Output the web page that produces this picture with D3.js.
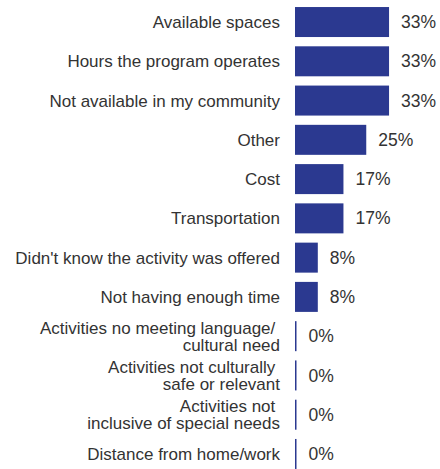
<!DOCTYPE html>
<html>
<head>
<meta charset="utf-8">
<script src="https://cdn.jsdelivr.net/npm/d3@7"></script>
<style>
  body { margin: 0; background: #fff; }
  text { font-family: "Liberation Sans", Arial, sans-serif; fill: #333; white-space: pre; }
</style>
</head>
<body>
<div id="grafico"></div>
<script>
var categories = [
    "Available spaces",
    "Hours the program operates",
    "Not available in my community",
    "Other",
    "Cost",
    "Transportation",
    "Didn't know the activity was offered",
    "Not having enough time",
    "Activities no meeting language/ \ncultural need",
    "Activities not culturally \nsafe or relevant",
    "Activities not \ninclusive of special needs",
    "Distance from home/work"
];
var values = [33, 33, 33, 25, 17, 17, 8, 8, 0, 0, 0, 0];
var valueLabels = ["33%", "33%", "33%", "25%", "17%", "17%", "8%", "8%", "0%", "0%", "0%", "0%"];

var width = 440,
    height = 469;

var rows = categories.map(function(c, i) {
    return { cat: c, value: values[i], label: valueLabels[i] };
});

var svg = d3.select("#grafico").append("svg")
    .attr("width", width)
    .attr("height", height);

var x = d3.scaleLinear().domain([0, 100]).range([295, 580]);
var y = d3.scaleBand().domain(categories).range([2.4, 473.6]).paddingInner(0.236).paddingOuter(0.118);

var blue = "#2b3990";

svg.selectAll(".bar")
    .data(rows)
    .enter()
    .append("rect")
    .attr("class", "bar")
    .attr("x", x(0))
    .attr("y", function(d) { return y(d.cat) })
    .attr("height", y.bandwidth())
    .attr("width", function(d) { return Math.max(x(d.value) - x(0), 1.5) })
    .attr("fill", blue);

svg.selectAll(".val")
    .data(rows)
    .enter()
    .append("text")
    .attr("class", "val")
    .attr("x", function(d) { return Math.max(x(d.value), x(0) + 1.5) + 12 })
    .attr("y", function(d) { return y(d.cat) + y.bandwidth() / 2 })
    .attr("dy", "0.35em")
    .style("font-size", "17.5px")
    .text(function(d) { return d.label });

var labels = svg.selectAll(".cat")
    .data(rows)
    .enter()
    .append("text")
    .attr("class", "cat")
    .attr("text-anchor", "end")
    .style("font-size", "17px")
    .attr("transform", function(d) {
        return "translate(280," + (y(d.cat) + y.bandwidth() / 2) + ")"
    });

labels.each(function(d) {
    var lines = d.cat.split("\n");
    var t = d3.select(this);
    var lh = 17;
    lines.forEach(function(l, i) {
        t.append("tspan")
            .attr("x", 0)
            .attr("y", (i - (lines.length - 1) / 2) * lh)
            .attr("dy", "0.35em")
            .text(l);
    });
});
</script>
</body>
</html>
